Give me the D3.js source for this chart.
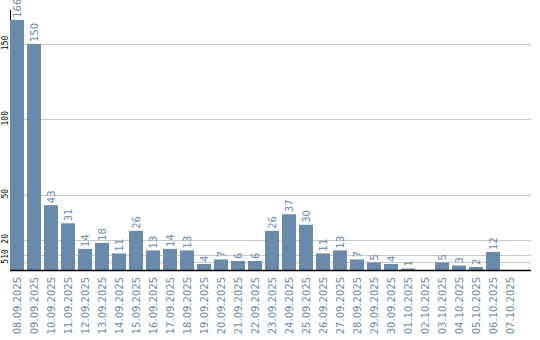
<!DOCTYPE html>
<html>
<head>
<meta charset="utf-8">
<script src="https://cdn.jsdelivr.net/npm/d3@7"></script>
<style>
  body { margin: 0; background: #fff; }
  svg { display: block; }
</style>
</head>
<body>
<svg id="chart" width="540" height="340"></svg>
<script>
// Data
var dates = ["08.09.2025", "09.09.2025", "10.09.2025", "11.09.2025", "12.09.2025",
  "13.09.2025", "14.09.2025", "15.09.2025", "16.09.2025", "17.09.2025",
  "18.09.2025", "19.09.2025", "20.09.2025", "21.09.2025", "22.09.2025",
  "23.09.2025", "24.09.2025", "25.09.2025", "26.09.2025", "27.09.2025",
  "28.09.2025", "29.09.2025", "30.09.2025", "01.10.2025", "02.10.2025",
  "03.10.2025", "04.10.2025", "05.10.2025", "06.10.2025", "07.10.2025"];
var counts = [166, 150, 43, 31, 14, 18, 11, 26, 13, 14,
  13, 4, 7, 6, 6, 26, 37, 30, 11, 13,
  7, 5, 4, 1, 0, 5, 3, 2, 12, 0];
var yTicks = [5, 10, 20, 50, 100, 150];

var barColor = "#6a8aab";
var svg = d3.select("#chart");

// rows of {date, value}, only days with a count get a bar
var rows = dates.map(function(d, i) { return {date: d, value: counts[i]}; });
var withCount = rows.filter(function(d) { return d.value > 0; });

// Scales
var x = d3.scaleBand()
    .domain(dates)
    .range([10, 517])
    .paddingInner(3 / 17)
    .paddingOuter(0)
    .align(0);

var y = d3.scaleLinear()
    .domain([0, 172.5])
    .range([270, 10]);

// Grid lines
svg.append("g")
  .selectAll("line")
  .data(yTicks)
  .enter()
  .append("line")
    .attr("x1", 10)
    .attr("x2", 531)
    .attr("y1", function(d) { return Math.round(y(d)) + 0.5; })
    .attr("y2", function(d) { return Math.round(y(d)) + 0.5; })
    .style("stroke", "#c8c8c8")
    .style("stroke-width", 1);

// Y axis line
svg.append("line")
  .attr("x1", 10.5).attr("x2", 10.5)
  .attr("y1", 10).attr("y2", 270)
  .style("stroke", "#000");

// Y tick labels (rotated)
svg.append("g")
  .selectAll("text")
  .data(yTicks)
  .enter()
  .append("text")
    .attr("transform", function(d) { return "translate(8," + (y(d) - 1) + ") rotate(-90)"; })
    .attr("text-anchor", "middle")
    .style("font-family", "'DejaVu Sans Mono', monospace")
    .style("font-size", "8px")
    .style("fill", "#000")
    .text(function(d) { return d; });

// Bars
svg.append("g")
  .selectAll("rect")
  .data(withCount)
  .enter()
  .append("rect")
    .attr("x", function(d) { return x(d.date); })
    .attr("y", function(d) { return y(d.value); })
    .attr("width", x.bandwidth())
    .attr("height", function(d) { return y(0) - y(d.value); })
    .style("fill", barColor);

// Value labels above bars
svg.append("g")
  .selectAll("text")
  .data(withCount)
  .enter()
  .append("text")
    .attr("transform", function(d) {
      return "translate(" + (x(d.date) + x.bandwidth() / 2 + 4) + "," + (y(d.value) - 2) + ") rotate(-90)";
    })
    .attr("text-anchor", "start")
    .style("font-family", "'DejaVu Sans', sans-serif")
    .style("font-size", "10px")
    .style("fill", barColor)
    .text(function(d) { return d.value; });

// X axis line
svg.append("line")
  .attr("x1", 10).attr("x2", 531)
  .attr("y1", 270.5).attr("y2", 270.5)
  .style("stroke", "#000")
  .style("stroke-width", 1.5);

// Date labels
svg.append("g")
  .selectAll("text")
  .data(dates)
  .enter()
  .append("text")
    .attr("transform", function(d) {
      return "translate(" + (x(d) + x.bandwidth() / 2 + 4) + ",277) rotate(-90)";
    })
    .attr("text-anchor", "end")
    .style("font-family", "'DejaVu Sans', sans-serif")
    .style("font-size", "10px")
    .style("fill", barColor)
    .text(function(d) { return d; });
</script>
</body>
</html>
